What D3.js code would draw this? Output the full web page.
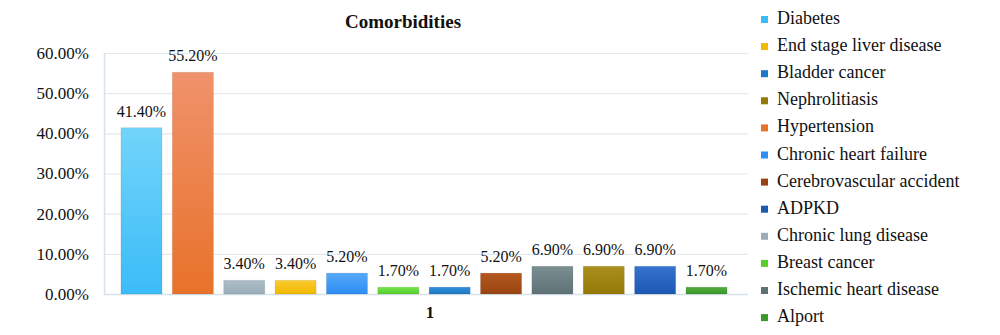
<!DOCTYPE html>
<html>
<head>
<meta charset="utf-8">
<script src="https://cdn.jsdelivr.net/npm/d3@7"></script>
<style>
  html, body { margin: 0; padding: 0; background: #fff; }
  svg { display: block; }
  text { font-family: "Liberation Serif", "Times New Roman", serif; fill: #111; }
</style>
</head>
<body>
<div id="chart"></div>
<script>
// ---- data ----
const categories = ["Diabetes", "Hypertension", "Chronic lung disease", "End stage liver disease",
  "Chronic heart failure", "Breast cancer", "Bladder cancer", "Cerebrovascular accident",
  "Ischemic heart disease", "Nephrolitiasis", "ADPKD", "Alport"];
const values = [41.4, 55.2, 3.4, 3.4, 5.2, 1.7, 1.7, 5.2, 6.9, 6.9, 6.9, 1.7];
const legendOrder = ["Diabetes", "End stage liver disease", "Bladder cancer", "Nephrolitiasis",
  "Hypertension", "Chronic heart failure", "Cerebrovascular accident", "ADPKD",
  "Chronic lung disease", "Breast cancer", "Ischemic heart disease", "Alport"];
const yTicks = [0, 10, 20, 30, 40, 50, 60];
const colorsTop = ["#72d4fa", "#f0926c", "#abbcc6", "#f9cb30", "#55a9f8", "#74e44e",
  "#2f8ed9", "#b5581f", "#7b8f92", "#ab8f1c", "#3473cf", "#52ab3e"];
const colorsBottom = ["#3bbcf8", "#e8722a", "#9aaeb9", "#f3b800", "#2d8df5", "#56cf2c",
  "#1f78c6", "#984412", "#5e7174", "#957908", "#1d58b3", "#389828"];
const title = "Comorbidities";
const xLabel = "1";

// ---- layout ----
const W = 1000, H = 335;
const plot = { left: 104, right: 744, top: 53, bottom: 294 };

const svg = d3.select("#chart").append("svg").attr("width", W).attr("height", H);
const defs = svg.append("defs");

const x = d3.scaleBand().domain(categories).range([plot.left, plot.right])
  .paddingInner(0.2).paddingOuter(0.33);
const y = d3.scaleLinear().domain([0, 60]).range([plot.bottom, plot.top]);

categories.forEach((c, i) => {
  const g = defs.append("linearGradient").attr("id", "grad" + i)
    .attr("x1", 0).attr("y1", 0).attr("x2", 0).attr("y2", 1);
  g.append("stop").attr("offset", "0%").attr("stop-color", colorsTop[i]);
  g.append("stop").attr("offset", "100%").attr("stop-color", colorsBottom[i]);
});

// gridlines
svg.append("g").selectAll("line").data(yTicks.filter(t => t > 0)).join("line")
  .attr("x1", plot.left).attr("x2", 748)
  .attr("y1", d => y(d) + 0.5).attr("y2", d => y(d) + 0.5)
  .attr("stroke", "#e2e9ef").attr("stroke-width", 1.2);

// axis lines
svg.append("line").attr("x1", plot.left + 0.5).attr("x2", plot.left + 0.5)
  .attr("y1", plot.top).attr("y2", plot.bottom + 1)
  .attr("stroke", "#d7e2ea").attr("stroke-width", 1.5);
svg.append("line").attr("x1", plot.left).attr("x2", 748)
  .attr("y1", plot.bottom + 0.5).attr("y2", plot.bottom + 0.5)
  .attr("stroke", "#d7e2ea").attr("stroke-width", 1.5);

// y axis via d3.axisLeft
const yAxis = svg.append("g").attr("transform", `translate(${plot.left},0)`)
  .call(d3.axisLeft(y).tickValues(yTicks).tickSize(0).tickPadding(15)
    .tickFormat(d => d.toFixed(2) + "%"));
yAxis.select(".domain").remove();
yAxis.selectAll("text").attr("font-family", "Liberation Serif").attr("font-size", 17)
  .attr("fill", "#111");

// bars
svg.append("g").selectAll("rect").data(categories).join("rect")
  .attr("x", d => x(d)).attr("width", x.bandwidth())
  .attr("y", (d, i) => y(values[i])).attr("height", (d, i) => y(0) - y(values[i]))
  .attr("fill", (d, i) => `url(#grad${i})`)
  .attr("stroke", "rgba(0,0,0,0.08)").attr("stroke-width", 1);

// value labels
svg.append("g").selectAll("text").data(categories).join("text")
  .attr("x", d => x(d) + x.bandwidth() / 2)
  .attr("y", (d, i) => y(values[i]) - 11)
  .attr("text-anchor", "middle").attr("font-size", 16)
  .text((d, i) => values[i].toFixed(2) + "%");

// title
svg.append("text").attr("x", 403).attr("y", 28).attr("text-anchor", "middle")
  .attr("font-size", 19).attr("font-weight", "bold").text(title);

// x label
svg.append("text").attr("x", 430).attr("y", 318).attr("text-anchor", "middle")
  .attr("font-size", 17).attr("font-weight", "bold").text(xLabel);

// legend
const leg = svg.append("g").selectAll("g").data(legendOrder).join("g")
  .attr("transform", (d, i) => `translate(761, ${24 + i * 27.1})`);
leg.append("rect").attr("x", 0).attr("y", -8).attr("width", 7).attr("height", 7)
  .attr("fill", d => colorsBottom[categories.indexOf(d)]);
leg.append("text").attr("x", 16).attr("y", 0).attr("font-size", 18).text(d => d);
</script>
</body>
</html>
